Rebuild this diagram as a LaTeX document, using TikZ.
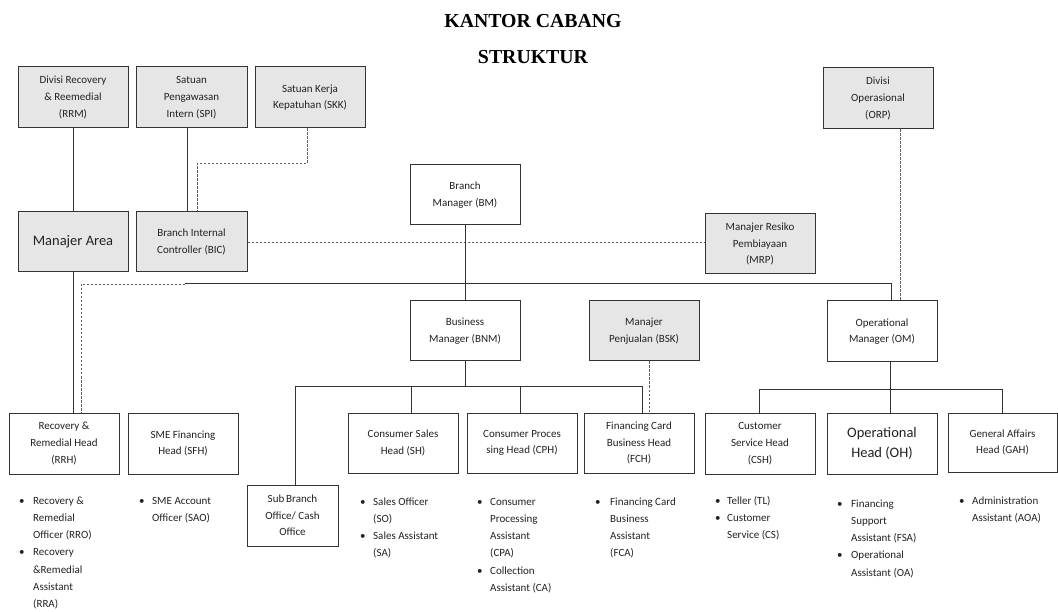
\documentclass[tikz,border=0pt]{standalone}
\usepackage{fontspec}
\setmainfont{Carlito}
\newfontfamily\titlefont{Liberation Serif}
\usepackage{array}
\definecolor{boxgray}{HTML}{E6E6E6}
\definecolor{linegray}{HTML}{333333}
\definecolor{txt}{HTML}{222222}
\definecolor{dashgray}{HTML}{5E5E5E}
\newcommand{\bu}{\textbullet}
\tikzset{
  box/.style={draw=linegray, line width=1pt, fill=white, text=txt, align=center,
    inner sep=0pt, minimum width=110pt, minimum height=60pt,
    font=\fontsize{11}{16.7}\selectfont},
  gbox/.style={box, fill=boxgray},
  bigtext/.style={font=\fontsize{14.5}{20}\selectfont},
  conn/.style={draw=linegray, line width=1pt},
  dsh/.style={draw=dashgray, line width=0.8pt, dash pattern=on 2.5pt off 1.5pt},
  lst/.style={text=txt, inner sep=0pt, anchor=base west, font=\fontsize{11}{17.3}\selectfont},
  ttl/.style={inner sep=0pt, anchor=base, font=\titlefont\bfseries\fontsize{19.8}{22}\selectfont}
}
\begin{document}
\begin{tikzpicture}[x=1pt, y=-1pt]
\useasboundingbox (0,0) rectangle (1058,612);
% titles
\node[ttl] (t1) at (533,28) {KANTOR CABANG};
\node[ttl] (t2) at (533,64) {STRUKTUR};
% top row
\node[gbox, minimum height=61pt] (rrm) at (73,97.5) {Divisi Recovery\\\& Reemedial\\(RRM)};
\node[gbox, minimum width=111pt, minimum height=61pt] (spi) at (191.5,97.5) {Satuan\\Pengawasan\\Intern (SPI)};
\node[gbox, minimum height=61pt] (skk) at (310,97.5) {Satuan Kerja\\Kepatuhan (SKK)};
\node[gbox, minimum height=61pt] (orp) at (878,98.5) {Divisi\\Operasional\\(ORP)};
% second row
\node[gbox, bigtext] (ma) at (73,242) {Manajer Area};
\node[gbox, minimum width=111pt] (bic) at (191.5,242) {Branch Internal\\Controller (BIC)};
\node[box] (bm) at (465,195) {Branch\\Manager (BM)};
\node[gbox] (mrp) at (760,244) {Manajer Resiko\\Pembiayaan\\(MRP)};
% third row
\node[box] (bnm) at (465,331) {Business\\Manager (BNM)};
\node[gbox] (bsk) at (644,331) {Manajer\\Penjualan (BSK)};
\node[box, minimum height=61pt] (om) at (882,331.5) {Operational\\Manager (OM)};
% fourth row
\node[box, minimum height=61pt] (rrh) at (64,443.5) {Recovery \&\\Remedial Head\\(RRH)};
\node[box, minimum height=61pt] (sfh) at (183,443.5) {SME Financing\\Head (SFH)};
\node[box, minimum width=91pt, minimum height=61pt] (sub) at (292.5,515.5) {Sub\,Branch\\Office/ Cash\\Office};
\node[box] (sh) at (403,443) {Consumer Sales\\Head (SH)};
\node[box] (cph) at (522,443) {Consumer Proces\\sing Head (CPH)};
\node[box] (fch) at (639,443) {Financing Card\\Business Head\\(FCH)};
\node[box, minimum height=61pt] (csh) at (760,443.5) {Customer\\Service Head\\(CSH)};
\node[box, bigtext, minimum height=61pt] (oh) at (882,443.5) {Operational\\Head (OH)};
\node[box, minimum width=109pt, minimum height=59pt] (gah) at (1002.5,442.5) {General Affairs\\Head (GAH)};
% bullet lists
\node[lst] (rrhl) at (19,504) {\begin{tabular}[t]{@{}p{14pt}@{}l@{}}\bu & Recovery \&\\ & Remedial\\ & Officer (RRO)\\ \bu & Recovery\\ & \&Remedial\\ & Assistant\\ & (RRA)\end{tabular}};
\node[lst] (sfhl) at (139,504) {\begin{tabular}[t]{@{}p{13pt}@{}l@{}}\bu & SME Account\\ & Officer (SAO)\end{tabular}};
\node[lst] (shl) at (360,505) {\begin{tabular}[t]{@{}p{13pt}@{}l@{}}\bu & Sales Officer\\ & (SO)\\ \bu & Sales Assistant\\ & (SA)\end{tabular}};
\node[lst] (cphl) at (477,505) {\begin{tabular}[t]{@{}p{13pt}@{}l@{}}\bu & Consumer\\ & Processing\\ & Assistant\\ & (CPA)\\ \bu & Collection\\ & Assistant (CA)\end{tabular}};
\node[lst] (fchl) at (595,505) {\begin{tabular}[t]{@{}p{15pt}@{}l@{}}\bu & Financing Card\\ & Business\\ & Assistant\\ & (FCA)\end{tabular}};
\node[lst] (cshl) at (715,504) {\begin{tabular}[t]{@{}p{12pt}@{}l@{}}\bu & Teller (TL)\\ \bu & Customer\\ & Service (CS)\end{tabular}};
\node[lst] (ohl) at (837,507) {\begin{tabular}[t]{@{}p{14pt}@{}l@{}}\bu & Financing\\ & Support\\ & Assistant (FSA)\\ \bu & Operational\\ & Assistant (OA)\end{tabular}};
\node[lst] (gahl) at (959,504) {\begin{tabular}[t]{@{}p{13pt}@{}l@{}}\bu & Administration\\ & Assistant (AOA)\end{tabular}};
% connectors top
\draw[conn] (rrm.south) -- (ma.north);
\draw[conn] ([xshift=-4.5pt]spi.south) -- ([xshift=-4.5pt]bic.north);
\draw[dsh] ([xshift=-3pt]skk.south) -- ++(0,35) -| ([xshift=5.5pt]bic.north);
\draw[dsh] (bic.east) -- (bic.east -| mrp.west);
\draw[conn] (ma.south) -- (ma.south |- rrh.north);
% main horizontal
\coordinate (hstart) at (185,284);
\coordinate (rrhd) at ([xshift=17pt]rrh.north);
\coordinate (omtop) at ([xshift=9pt]om.north);
\draw[conn] (bm.south) -- (bnm.north);
\draw[conn] (hstart) -- (hstart -| omtop) -- (omtop);
\draw[dsh] (hstart) -- (hstart -| rrhd) -- (rrhd);
\draw[dsh] ([xshift=22pt]orp.south) -- ([xshift=18pt]om.north);
% BNM branches
\coordinate (bj) at (465,387);
\draw[conn] (bnm.south) -- (bj);
\draw[conn] ([xshift=2.5pt]sub.north) -- ([xshift=2.5pt]sub.north |- bj) -- ([xshift=3pt]fch.north |- bj) -- ([xshift=3pt]fch.north);
\draw[conn] ([xshift=8pt]sh.north) -- ([xshift=8pt]sh.north |- bj);
\draw[conn] ([xshift=-2pt]cph.north) -- ([xshift=-2pt]cph.north |- bj);
\draw[dsh] ([xshift=5pt]bsk.south) -- ([xshift=10pt]fch.north);
% OM branches
\coordinate (oj) at (890,389);
\draw[conn] ([xshift=8pt]om.south) -- (oj);
\draw[conn] ([xshift=-1pt]csh.north) -- ([xshift=-1pt]csh.north |- oj) -- (gah.north |- oj) -- (gah.north);
\draw[conn] ([xshift=8pt]oh.north) -- ([xshift=8pt]oh.north |- oj);
\end{tikzpicture}
\end{document}
